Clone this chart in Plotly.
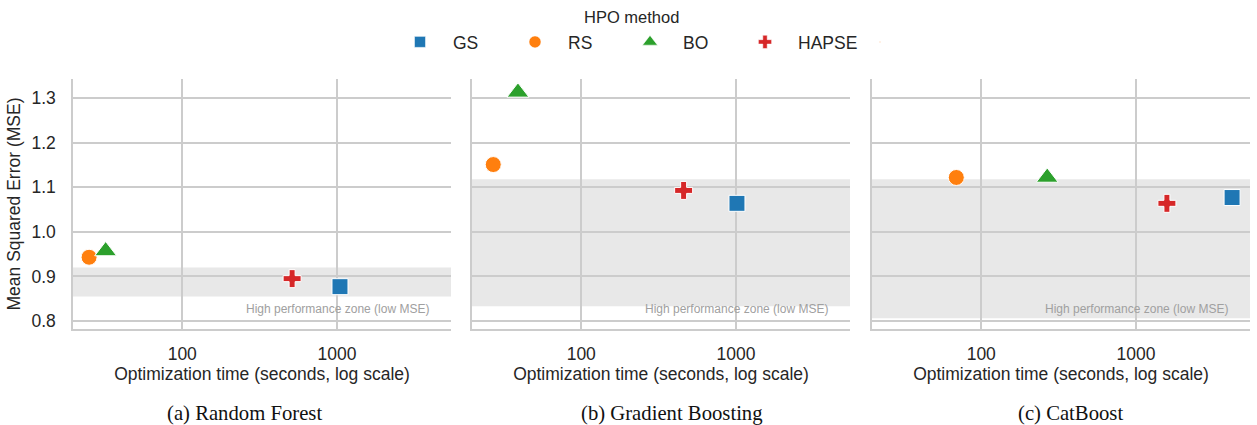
import plotly.graph_objects as go

methods = ["GS", "RS", "BO", "HAPSE"]
colors = {"GS": "#1f77b4", "RS": "#ff7f0e", "BO": "#2ca02c", "HAPSE": "#d62728"}
symbols = {"GS": "square", "RS": "circle", "BO": "triangle-up", "HAPSE": "cross"}
sizes = {"GS": 16, "RS": 16, "BO": 19, "HAPSE": 15}
legend_sizes = {"GS": 11, "RS": 12, "BO": 13, "HAPSE": 11}

panels = ["(a) Random Forest", "(b) Gradient Boosting", "(c) CatBoost"]

# optimization time (seconds) per panel, per method
time_rf = {"GS": 1046, "RS": 25, "BO": 32, "HAPSE": 513}
time_gb = {"GS": 1015, "RS": 27, "BO": 39, "HAPSE": 459}
time_cb = {"GS": 4180, "RS": 69, "BO": 267, "HAPSE": 1585}
# MSE per panel, per method
mse_rf = {"GS": 0.877, "RS": 0.943, "BO": 0.957, "HAPSE": 0.895}
mse_gb = {"GS": 1.064, "RS": 1.151, "BO": 1.313, "HAPSE": 1.093}
mse_cb = {"GS": 1.077, "RS": 1.122, "BO": 1.122, "HAPSE": 1.064}

# high performance zone bounds (MSE)
zone_low = [0.855, 0.833, 0.806]
zone_high = [0.920, 1.118, 1.118]

times = [time_rf, time_gb, time_cb]
mses = [mse_rf, mse_gb, mse_cb]

W, H = 1257, 425
ml, mr, mt, mb = 73, 7, 79, 96
pw = W - ml - mr
ph = H - mt - mb
domains = [[0, 378 / pw], [399 / pw, 777 / pw], [799 / pw, 1.0]]
caption_px = [244, 672, 1070]

FONT = "Liberation Sans, Arial, sans-serif"
GRID = "#cccccc"
TXT = "#262626"
FS = 17.5


def px_x(p):
    return (p - ml) / pw


def px_y(p):
    return (H - mb - p) / ph


fig = go.Figure()

# legend entries (no data points, only legend symbols)
for m in methods:
    fig.add_trace(go.Scatter(
        x=[None], y=[None], mode="markers", name=m, legendgroup=m,
        marker=dict(symbol=symbols[m], size=legend_sizes[m], color=colors[m],
                    line=dict(color="white", width=0.5)),
    ))
# spacer entry so the last label is not clipped
fig.add_trace(go.Scatter(x=[None], y=[None], mode="markers", name=" ",
                         marker=dict(size=1, opacity=0), hoverinfo="skip"))

for i in range(3):
    xa = "x" if i == 0 else f"x{i+1}"
    ya = "y" if i == 0 else f"y{i+1}"
    for m in methods:
        fig.add_trace(go.Scatter(
            x=[times[i][m]], y=[mses[i][m]], mode="markers", name=m,
            legendgroup=m, showlegend=False,
            marker=dict(symbol=symbols[m], size=sizes[m], color=colors[m],
                        line=dict(color="white", width=1)),
            xaxis=xa, yaxis=ya,
        ))
    fig.add_shape(type="rect", xref=f"{xa} domain", yref=ya,
                  x0=0, x1=1, y0=zone_low[i], y1=zone_high[i],
                  fillcolor="#e8e8e8", line=dict(width=0), layer="below")
    fig.add_annotation(xref=f"{xa} domain", yref=f"{ya} domain", x=0.947, y=0.08,
                       xanchor="right", yanchor="middle", showarrow=False,
                       text="High performance zone (low MSE)",
                       font=dict(family=FONT, size=12, color="#a0a0a0"))
    fig.add_annotation(xref="paper", yref="paper",
                       x=px_x(caption_px[i]), y=px_y(413),
                       xanchor="center", yanchor="middle", showarrow=False,
                       text=panels[i],
                       font=dict(family="Liberation Serif, Times New Roman, serif", size=20.7, color="#111111"))

    axx = dict(type="log", range=[1.294, 3.737], domain=domains[i],
               anchor=ya, tickvals=[100, 1000], ticktext=["100", "1000"],
               showgrid=True, gridcolor=GRID, gridwidth=1.5,
               showline=True, linecolor=GRID, linewidth=1.5, zeroline=False,
               ticks="", ticklabelstandoff=8,
               tickfont=dict(family=FONT, size=FS, color=TXT),
               title=dict(text="Optimization time (seconds, log scale)", standoff=0,
                          font=dict(family=FONT, size=FS, color=TXT)))
    axy = dict(range=[0.782, 1.343], domain=[0, 1], anchor=xa,
               tickvals=[0.8, 0.9, 1.0, 1.1, 1.2, 1.3], tickformat=".1f",
               showgrid=True, gridcolor=GRID, gridwidth=1.5,
               showline=True, linecolor=GRID, linewidth=1.5, zeroline=False,
               ticks="", showticklabels=(i == 0), ticklabelstandoff=12,
               tickfont=dict(family=FONT, size=FS, color=TXT))
    if i == 0:
        axy["title"] = dict(text="Mean Squared Error (MSE)", standoff=6,
                            font=dict(family=FONT, size=FS, color=TXT))
    fig.update_layout(**{("xaxis" if i == 0 else f"xaxis{i+1}"): axx,
                         ("yaxis" if i == 0 else f"yaxis{i+1}"): axy})

# legend title
fig.add_annotation(xref="paper", yref="paper", x=px_x(631), y=px_y(17),
                   xanchor="center", yanchor="middle", showarrow=False,
                   text="HPO method", font=dict(family=FONT, size=16.5, color=TXT))

fig.update_layout(
    width=W, height=H,
    margin=dict(l=ml, r=mr, t=mt, b=mb),
    paper_bgcolor="white", plot_bgcolor="white",
    font=dict(family=FONT, color=TXT),
    legend=dict(orientation="h", x=px_x(387), xanchor="left",
                y=px_y(42), yanchor="middle",
                font=dict(family=FONT, size=FS, color=TXT),
                itemsizing="trace", itemwidth=56,
                entrywidth=44, entrywidthmode="pixels",
                bgcolor="rgba(0,0,0,0)"),
)

fig.write_html("out.html")
